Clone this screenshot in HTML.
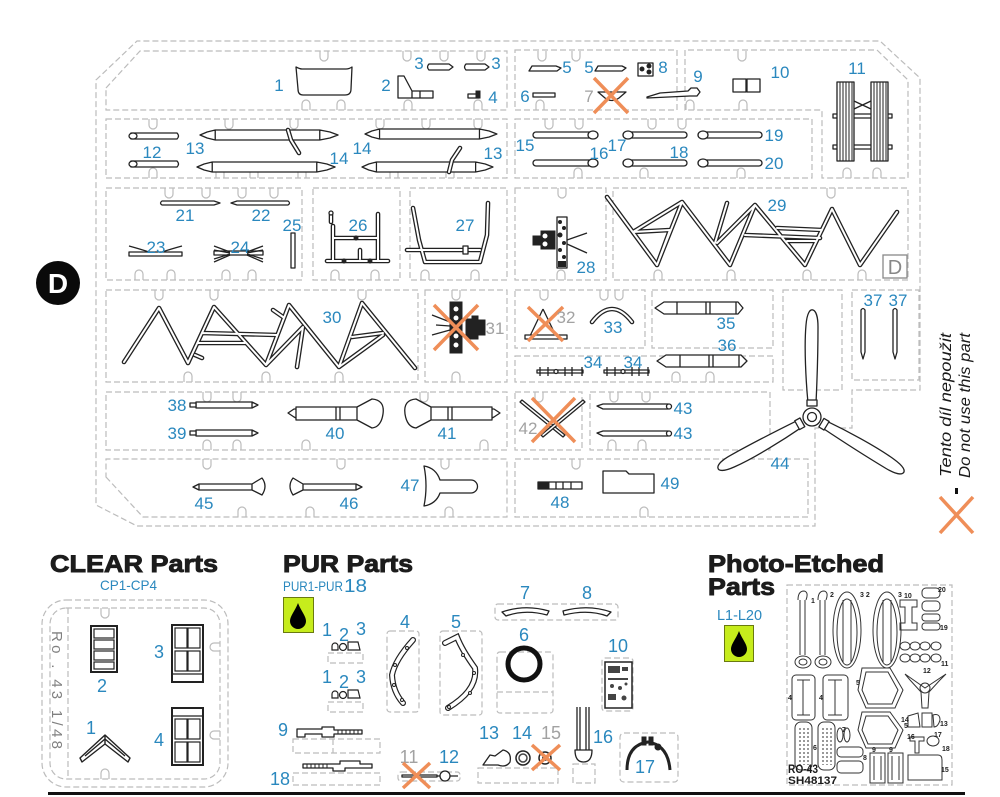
<!DOCTYPE html>
<html><head><meta charset="utf-8"><style>
html,body{margin:0;padding:0;background:#fff;}
svg{display:block;}
.d{fill:none;stroke:#bcbcbc;stroke-width:1.2;stroke-dasharray:6 3;}
.p{fill:#fff;stroke:#222;stroke-width:1.3;stroke-linejoin:round;}
.n{fill:none;stroke:#222;stroke-width:1.3;}
.k{fill:#222;stroke:#222;stroke-width:1;}
.l{font-family:"Liberation Sans",sans-serif;font-size:17px;fill:#2a88be;text-anchor:middle;}
.g{fill:#a2a2a2;}
.x{stroke:#ef8e58;stroke-width:3.5;fill:none;}
.tb{fill:none;stroke:#222;stroke-width:4.6;stroke-linecap:round;stroke-linejoin:round;}
.tw{fill:none;stroke:#fff;stroke-width:2;stroke-linecap:round;stroke-linejoin:round;}
.h{font-family:"Liberation Sans",sans-serif;font-weight:bold;font-size:24px;fill:#1c1c1c;stroke:#1c1c1c;stroke-width:0.9;}
.s{font-family:"Liberation Sans",sans-serif;fill:#2a88be;}
.pe{fill:none;stroke:#333;stroke-width:1;}
</style></head><body>
<svg width="1000" height="797" viewBox="0 0 1000 797" xmlns="http://www.w3.org/2000/svg">
<defs>
<path id="t30" d="M124,362 L159,308 L188,363 L214,307 L266,365 L289,305 L339,367 L362,303 L415,368 M202,333 L277,335 M198,343 L245,343 M273,310 L283,317 M195,355 L202,358 M266,365 L303,327 L297,367 M352,337 L383,333 M339,367 L383,335"/>
<path id="t29" d="M607,197 L657,265 L682,202 L730,265 L755,205 L805,265 L832,209 L860,265 L897,212 M633,232 L682,202 M633,232 L670,230 L657,265 M715,243 L727,203 M717,243 L755,205 M745,235 L820,238 M777,228 L822,230 M787,241 L815,241"/>
<path id="t26" d="M333,226 L333,260 M378,214 L378,260 M333,238 L378,238 M327,261 L388,261 M360,250 L360,259 M331,222 L331,214"/>
<path id="t27" d="M413,208 L419,240 L425,262 L480,262 L487,235 L488,203 M407,250 L480,250"/>
<path id="t33" d="M592,322 Q612,296 632,322"/>
<path id="blade" d="M14,-4 C35,-6 70,-8 92,-6 C104,-5 108,-2 107,1 C106,4 100,6 90,6 C68,6 35,5 14,4 Z"/>
<path id="tube" d="M0,0 L7,-3 L15,-5 H118 L128,-3 L136,0 L128,3 L118,5 H15 L7,3 Z M15,-5 V5 M118,-5 V5"/>
</defs>

<!-- Sprue outlines -->
<path class="d" d="M96,80 L137,41 H880 L920,78 V390 H852 V428 H815 V526 H137 L96,505 Z"/>
<path class="d" d="M106,88 L140,51 H507 V110 H106 Z"/>
<rect class="d" x="515" y="50" width="162" height="60"/>
<path class="d" d="M685,110 V50 H877 L908,80 V178 H822 V110 Z"/>
<rect class="d" x="106" y="119" width="401" height="59"/>
<rect class="d" x="515" y="119" width="297" height="59"/>
<rect class="d" x="106" y="188" width="196" height="92"/>
<rect class="d" x="313" y="188" width="87" height="92"/>
<rect class="d" x="410" y="188" width="97" height="92"/>
<rect class="d" x="515" y="188" width="91" height="92"/>
<rect class="d" x="613" y="188" width="295" height="92"/>
<rect class="d" x="106" y="290" width="312" height="92"/>
<rect class="d" x="425" y="290" width="82" height="92"/>
<rect class="d" x="515" y="290" width="130" height="58"/>
<rect class="d" x="515" y="356" width="258" height="26"/>
<rect class="d" x="652" y="290" width="121" height="58"/>
<rect class="d" x="783" y="290" width="59" height="100"/>
<rect class="d" x="852" y="290" width="67" height="90"/>
<rect class="d" x="106" y="392" width="401" height="58"/>
<rect class="d" x="515" y="392" width="67" height="58"/>
<rect class="d" x="590" y="392" width="180" height="58"/>
<path class="d" d="M106,477 L143,517 H507 V459 H106 Z"/>
<rect class="d" x="515" y="459" width="293" height="58"/>
<!-- notches -->
<g class="d" style="stroke-dasharray:none">
<path d="M320,51 v6 a4,4 0 0 0 8,0 v-6 M403,51 v6 a4,4 0 0 0 8,0 v-6 M440,51 v6 a4,4 0 0 0 8,0 v-6 M477,51 v6 a4,4 0 0 0 8,0 v-6 M538,51 v6 a4,4 0 0 0 8,0 v-6 M572,51 v6 a4,4 0 0 0 8,0 v-6 M738,51 v6 a4,4 0 0 0 8,0 v-6"/>
<path d="M302,110 v-6 a4,4 0 0 1 8,0 v6 M337,110 v-6 a4,4 0 0 1 8,0 v6 M404,110 v-6 a4,4 0 0 1 8,0 v6 M474,110 v-6 a4,4 0 0 1 8,0 v6 M536,110 v-6 a4,4 0 0 1 8,0 v6 M686,110 v-6 a4,4 0 0 1 8,0 v6 M739,110 v-6 a4,4 0 0 1 8,0 v6"/>
<path d="M149,119 v6 a4,4 0 0 0 8,0 v-6 M225,119 v6 a4,4 0 0 0 8,0 v-6 M290,119 v6 a4,4 0 0 0 8,0 v-6 M376,119 v6 a4,4 0 0 0 8,0 v-6 M422,119 v6 a4,4 0 0 0 8,0 v-6 M474,119 v6 a4,4 0 0 0 8,0 v-6 M545,119 v6 a4,4 0 0 0 8,0 v-6 M575,119 v6 a4,4 0 0 0 8,0 v-6 M648,119 v6 a4,4 0 0 0 8,0 v-6 M678,119 v6 a4,4 0 0 0 8,0 v-6"/>
<path d="M149,178 v-6 a4,4 0 0 1 8,0 v6 M216,178 v-6 a4,4 0 0 1 8,0 v6 M250,178 v-6 a4,4 0 0 1 8,0 v6 M298,178 v-6 a4,4 0 0 1 8,0 v6 M390,178 v-6 a4,4 0 0 1 8,0 v6 M446,178 v-6 a4,4 0 0 1 8,0 v6 M574,178 v-6 a4,4 0 0 1 8,0 v6 M640,178 v-6 a4,4 0 0 1 8,0 v6 M737,178 v-6 a4,4 0 0 1 8,0 v6 M843,178 v-6 a4,4 0 0 1 8,0 v6 M873,178 v-6 a4,4 0 0 1 8,0 v6"/>
<path d="M165,188 v6 a4,4 0 0 0 8,0 v-6 M202,188 v6 a4,4 0 0 0 8,0 v-6 M238,188 v6 a4,4 0 0 0 8,0 v-6 M270,188 v6 a4,4 0 0 0 8,0 v-6 M558,188 v6 a4,4 0 0 0 8,0 v-6 M827,188 v6 a4,4 0 0 0 8,0 v-6"/>
<path d="M135,280 v-6 a4,4 0 0 1 8,0 v6 M167,280 v-6 a4,4 0 0 1 8,0 v6 M222,280 v-6 a4,4 0 0 1 8,0 v6 M248,280 v-6 a4,4 0 0 1 8,0 v6 M331,280 v-6 a4,4 0 0 1 8,0 v6 M371,280 v-6 a4,4 0 0 1 8,0 v6 M421,280 v-6 a4,4 0 0 1 8,0 v6 M471,280 v-6 a4,4 0 0 1 8,0 v6 M557,280 v-6 a4,4 0 0 1 8,0 v6 M654,280 v-6 a4,4 0 0 1 8,0 v6 M727,280 v-6 a4,4 0 0 1 8,0 v6 M803,280 v-6 a4,4 0 0 1 8,0 v6 M858,280 v-6 a4,4 0 0 1 8,0 v6"/>
<path d="M155,290 v6 a4,4 0 0 0 8,0 v-6 M210,290 v6 a4,4 0 0 0 8,0 v-6 M358,290 v6 a4,4 0 0 0 8,0 v-6 M452,290 v6 a4,4 0 0 0 8,0 v-6 M540,290 v6 a4,4 0 0 0 8,0 v-6 M600,290 v6 a4,4 0 0 0 8,0 v-6 M615,290 v6 a4,4 0 0 0 8,0 v-6"/>
<path d="M184,382 v-6 a4,4 0 0 1 8,0 v6 M262,382 v-6 a4,4 0 0 1 8,0 v6 M335,382 v-6 a4,4 0 0 1 8,0 v6 M452,382 v-6 a4,4 0 0 1 8,0 v6 M672,382 v-6 a4,4 0 0 1 8,0 v6 M706,382 v-6 a4,4 0 0 1 8,0 v6"/>
<path d="M203,392 v6 a4,4 0 0 0 8,0 v-6 M233,392 v6 a4,4 0 0 0 8,0 v-6 M420,392 v6 a4,4 0 0 0 8,0 v-6 M535,392 v6 a4,4 0 0 0 8,0 v-6 M610,392 v6 a4,4 0 0 0 8,0 v-6 M642,392 v6 a4,4 0 0 0 8,0 v-6"/>
<path d="M203,450 v-6 a4,4 0 0 1 8,0 v6 M233,450 v-6 a4,4 0 0 1 8,0 v6 M302,450 v-6 a4,4 0 0 1 8,0 v6 M480,450 v-6 a4,4 0 0 1 8,0 v6 M608,450 v-6 a4,4 0 0 1 8,0 v6 M638,450 v-6 a4,4 0 0 1 8,0 v6"/>
<path d="M203,459 v6 a4,4 0 0 0 8,0 v-6 M337,459 v6 a4,4 0 0 0 8,0 v-6 M441,459 v6 a4,4 0 0 0 8,0 v-6 M572,459 v6 a4,4 0 0 0 8,0 v-6"/>
<path d="M238,517 v-6 a4,4 0 0 1 8,0 v6 M306,517 v-6 a4,4 0 0 1 8,0 v6 M445,517 v-6 a4,4 0 0 1 8,0 v6 M640,517 v-6 a4,4 0 0 1 8,0 v6"/>
</g>

<!-- D circle -->
<circle cx="58" cy="283" r="22" fill="#0a0a0a"/>
<text x="58" y="293" text-anchor="middle" font-family="Liberation Sans, sans-serif" font-weight="bold" font-size="28" fill="#fff">D</text>

<!-- Row A parts -->
<path class="p" d="M296,67 Q300,69 302,69 H346 Q349,69 352,67 L351,89 Q351,95 345,95 H303 Q298,95 298,89 Z"/>
<path class="p" d="M398,76 H404 L412,91 H433 V98 H398 Z M412,91 V98 M420,91 V98"/>
<path class="p" d="M429,64 H449 L453,67 L449,70 H429 Q426,67 429,64 Z"/>
<path class="p" d="M466,64 H485 L489,67 L485,70 H466 Q463,67 466,64 Z"/>
<rect class="p" x="468" y="94" width="11" height="4"/><rect class="k" x="476" y="91" width="4" height="7"/>
<path class="p" d="M532,66 H556 L561,68 L557,71 H529 Z"/>
<path class="p" d="M598,66 H622 L626,68 L622,71 H595 Z"/>
<rect class="p" x="638" y="63" width="15" height="13"/>
<circle class="k" cx="642" cy="69" r="2"/><circle class="k" cx="649" cy="66" r="2"/><circle class="k" cx="649" cy="72" r="2"/>
<rect class="p" x="533" y="93" width="22" height="4"/>
<path class="p" d="M598,92 H626 L619,98 Q612,103 605,98 Z"/>
<path class="x" d="M594,78 L628,113 M628,78 L594,113"/>
<path class="p" d="M647,97 L660,93 L688,91 L691,88 H697 L700,92 L697,96 L690,96 L647,98 Z"/>
<rect class="p" x="733" y="79" width="13" height="13"/><rect class="p" x="747" y="79" width="13" height="13"/>
<line x1="746.5" y1="79" x2="746.5" y2="92" stroke="#222" stroke-width="2"/>
<!-- part 11 -->
<rect class="p" x="833" y="114" width="59" height="4"/><rect class="p" x="833" y="145" width="59" height="4"/>
<path class="n" d="M854,101 L871,109 M854,109 L871,101"/>
<rect class="p" x="837" y="82" width="17" height="79"/><rect class="p" x="871" y="82" width="17" height="79"/>
<path class="n" style="stroke-width:1" d="M840,82 V161 M843,82 V161 M846,82 V161 M849,82 V161 M852,82 V161 M874,82 V161 M877,82 V161 M880,82 V161 M883,82 V161 M886,82 V161"/>

<!-- Row B -->
<path class="p" d="M131,133 H177 Q180,136 177,139 H131 Q128,136 131,133 Z"/><ellipse class="p" cx="133" cy="136" rx="4" ry="3"/>
<path class="p" d="M131,161 H177 Q180,164 177,167 H131 Q128,164 131,161 Z"/><ellipse class="p" cx="133" cy="164" rx="4" ry="3"/>
<use href="#tube" class="p" transform="translate(200,135) scale(1.015,1)"/>
<use href="#tube" class="p" transform="translate(197,167) scale(1.015,1)"/>
<use href="#tube" class="p" transform="translate(365,134) scale(0.97,1)"/>
<use href="#tube" class="p" transform="translate(362,167) scale(0.963,1)"/>
<path class="tb" d="M288,130 L291,140 L299,153"/><path class="tw" d="M288,130 L291,140 L299,153"/>
<path class="tb" d="M449,172 L452,160 L460,148"/><path class="tw" d="M449,172 L452,160 L460,148"/>
<rect class="p" x="533" y="132" width="62" height="6" rx="3"/><ellipse class="p" cx="593" cy="135" rx="5" ry="4"/>
<rect class="p" x="533" y="160" width="62" height="6" rx="3"/><ellipse class="p" cx="593" cy="163" rx="5" ry="4"/>
<rect class="p" x="625" y="132" width="62" height="6" rx="3"/><ellipse class="p" cx="628" cy="135" rx="5" ry="4"/>
<rect class="p" x="625" y="160" width="62" height="6" rx="3"/><ellipse class="p" cx="628" cy="163" rx="5" ry="4"/>
<rect class="p" x="700" y="132" width="62" height="6" rx="3"/><ellipse class="p" cx="703" cy="135" rx="5" ry="4"/>
<rect class="p" x="700" y="160" width="62" height="6" rx="3"/><ellipse class="p" cx="703" cy="163" rx="5" ry="4"/>

<!-- Row C -->
<path class="p" d="M162,201 H214 L220,203 L214,205 H162 Q159,203 162,201 Z"/>
<path class="p" d="M231,203 L237,201 H288 Q291,203 288,205 H237 Z"/>
<rect class="p" x="129" y="252" width="53" height="4"/>
<path class="n" d="M129,246 Q140,249 149,252 M182,246 Q171,249 162,252"/>
<rect class="p" x="214" y="251" width="49" height="4"/>
<path class="n" d="M214,246 L230,252 M214,250 L230,253 M214,259 L230,254 M214,262 L230,255 M263,246 L247,252 M263,250 L247,253 M263,259 L247,254 M263,262 L247,255"/>
<rect class="p" x="291" y="233" width="4" height="35"/>
<use href="#t26" class="tb"/><use href="#t26" class="tw"/>
<circle class="p" cx="331" cy="213" r="2"/><circle class="k" cx="356" cy="238" r="2"/><circle class="k" cx="344" cy="261" r="2"/><circle class="k" cx="370" cy="261" r="2"/>
<use href="#t27" class="tb"/><use href="#t27" class="tw"/>
<rect class="p" x="463" y="246" width="5" height="8"/>
<!-- 28 -->
<path class="k" d="M533,236 H541 V231 H555 V249 H541 V245 H533 Z"/>
<circle cx="545" cy="236" r="2.5" fill="#fff"/><circle cx="545" cy="244" r="2.5" fill="#fff"/>
<rect class="p" x="557" y="217" width="10" height="51"/>
<g fill="#222"><circle cx="560" cy="222" r="2"/><circle cx="564" cy="228" r="2"/><circle cx="560" cy="235" r="2.5"/><circle cx="564" cy="243" r="2"/><circle cx="560" cy="250" r="2"/><circle cx="564" cy="257" r="2"/><rect x="558" y="261" width="8" height="6"/></g>
<path class="n" d="M567,240 L587,233 M567,244 L587,253"/>
<!-- 29 -->
<use href="#t29" class="tb"/><use href="#t29" class="tw"/>
<rect x="883" y="255" width="24" height="23" fill="none" stroke="#888" stroke-width="1.3"/>
<text x="895" y="274" text-anchor="middle" font-family="Liberation Sans, sans-serif" font-size="20" fill="#888">D</text>

<!-- Row D -->
<use href="#t30" class="tb"/><use href="#t30" class="tw"/>
<path class="n" d="M432,315 L450,322 M432,335 L450,330 M436,325 L450,326"/>
<rect class="k" x="450" y="302" width="12" height="51"/>
<g fill="#fff"><circle cx="456" cy="309" r="2.5"/><circle cx="456" cy="318" r="2.5"/><circle cx="456" cy="336" r="2.5"/><circle cx="456" cy="345" r="2.5"/></g>
<path class="k" d="M466,319 H472 V316 H478 V320 H485 V335 H478 V339 H466 Z"/>
<path class="x" d="M434,305 L478,350 M478,305 L434,350"/>
<path class="n" d="M543,309 L530,336 M543,309 L556,336"/><rect class="p" x="525" y="335" width="42" height="4"/>
<path class="x" d="M528,307 L563,341 M563,307 L528,341"/>
<use href="#t33" class="tb"/><use href="#t33" class="tw"/>
<path class="p" d="M655,308 L664,302 H738 L743,308 L738,314 H664 Z M677,302 V314 M706,302 V314 M710,302 V314 M736,302 V314"/>
<path class="p" d="M657,361 L666,355 H741 L747,361 L741,367 H666 Z M680,355 V367 M709,355 V367 M713,355 V367 M739,355 V367"/>
<rect class="p" x="537" y="370" width="46" height="3"/>
<path class="n" d="M540,367 V376 M548,367 V376 M565,367 V376 M572,367 V376 M582,367 V376"/><circle class="p" cx="556" cy="371.5" r="2"/>
<rect class="p" x="604" y="370" width="45" height="3"/>
<path class="n" d="M607,367 V376 M615,367 V376 M632,367 V376 M639,367 V376 M648,367 V376"/><circle class="p" cx="623" cy="371.5" r="2"/>
<!-- 37 -->
<path class="p" d="M861,310 Q863,307 865,310 V352 L863,359 L861,352 Z"/>
<path class="p" d="M893,310 Q895,307 897,310 V352 L895,359 L893,352 Z"/>
<!-- propeller -->
<g transform="translate(812,417)">
<g transform="rotate(-90)"><use href="#blade" class="p"/><rect class="p" x="11" y="-5" width="6" height="10"/></g>
<g transform="rotate(151)"><use href="#blade" class="p"/><rect class="p" x="11" y="-5" width="6" height="10"/></g>
<g transform="rotate(31)"><use href="#blade" class="p"/><rect class="p" x="11" y="-5" width="6" height="10"/></g>
<circle class="p" r="9"/><circle class="p" r="4.5"/>
</g>

<!-- Row E -->
<path class="p" d="M196,402 H252 L258,405 L252,408 H196 Z M252,402 V408"/><rect class="p" x="190" y="403" width="6" height="4"/>
<path class="p" d="M196,430 H252 L258,433 L252,436 H196 Z M252,430 V436"/><rect class="p" x="190" y="431" width="6" height="4"/>
<path id="p40" class="p" d="M288,413 L294,409 H296 V407 H357 L372,399 Q385,400 383,414 Q381,427 372,428 L357,420 H296 V418 L294,417 Z M296,407 V420 M336,407 V420 M340,407 V420 M357,407 V420"/>
<use href="#p40" transform="matrix(-1,0,0,1,788,0)"/>
<path class="p" d="M522,400 L565,435 L563,437 L520,402 Z"/>
<path class="p" d="M585,402 L543,437 L541,435 L583,400 Z"/>
<path class="x" d="M532,398 L575,442 M575,398 L532,442"/>
<path class="p" d="M597,406 L603,404 H668 Q672,406 668,409 H603 Z"/><circle class="p" cx="669" cy="406.5" r="2.5"/>
<path class="p" d="M597,433 L603,431 H668 Q672,433 668,436 H603 Z"/><circle class="p" cx="669" cy="433.5" r="2.5"/>

<!-- Row F -->
<path id="p45" class="p" d="M193,487 L199,484 H252 L262,478 Q268,486 262,495 L252,490 H199 Z M199,484 V490 M252,484 V490"/>
<use href="#p45" transform="matrix(-1,0,0,1,555,0)"/>
<path class="p" d="M424,466 Q436,468 440,480 H471 A6.5,6.5 0 0 1 471,493 H440 Q436,504 424,506 Q428,486 424,466 Z"/>
<rect class="p" x="538" y="482" width="44" height="7"/>
<path class="k" d="M539,483 H549 V488 H539 Z"/><path class="n" d="M556,482 V489 M563,482 V489 M571,482 V489"/>
<path class="p" d="M603,471 H626 L629,474 H654 V493 H603 Z"/>

<!-- labels sprue -->
<g class="l">
<text x="279" y="91">1</text><text x="386" y="91">2</text><text x="419" y="69">3</text><text x="496" y="69">3</text><text x="493" y="103">4</text>
<text x="567" y="73">5</text><text x="589" y="73">5</text><text x="663" y="73">8</text><text x="525" y="102">6</text><text x="589" y="102" class="g">7</text>
<text x="698" y="82">9</text><text x="780" y="78">10</text><text x="857" y="74">11</text>
<text x="152" y="158">12</text><text x="195" y="154">13</text><text x="339" y="164">14</text><text x="362" y="154">14</text><text x="493" y="159">13</text>
<text x="525" y="151">15</text><text x="599" y="159">16</text><text x="617" y="151">17</text><text x="679" y="158">18</text><text x="774" y="141">19</text><text x="774" y="169">20</text>
<text x="185" y="221">21</text><text x="261" y="221">22</text><text x="156" y="253">23</text><text x="240" y="253">24</text><text x="292" y="231">25</text><text x="358" y="231">26</text><text x="465" y="231">27</text><text x="586" y="273">28</text><text x="777" y="211">29</text>
<text x="332" y="323">30</text><text x="495" y="334" class="g">31</text><text x="566" y="323" class="g">32</text><text x="613" y="333">33</text><text x="726" y="329">35</text><text x="727" y="351">36</text><text x="593" y="368">34</text><text x="633" y="368">34</text><text x="873" y="306">37</text><text x="898" y="306">37</text>
<text x="177" y="411">38</text><text x="177" y="439">39</text><text x="335" y="439">40</text><text x="447" y="439">41</text><text x="528" y="434" class="g">42</text><text x="683" y="414">43</text><text x="683" y="439">43</text><text x="780" y="469">44</text>
<text x="204" y="509">45</text><text x="349" y="509">46</text><text x="410" y="491">47</text><text x="560" y="508">48</text><text x="670" y="489">49</text>
</g>

<!-- Do not use note -->
<g font-family="Liberation Sans, sans-serif" font-style="italic" font-size="16" fill="#1a1a1a">
<text transform="translate(951,477) rotate(-90)" textLength="144" lengthAdjust="spacingAndGlyphs">Tento díl nepoužit</text>
<text transform="translate(970,478) rotate(-90)" textLength="145" lengthAdjust="spacingAndGlyphs">Do not use this part</text>
</g>
<rect x="955" y="488" width="3" height="6" fill="#111"/>
<path class="x" d="M940,497 L973,533 M973,497 L940,533"/>

<!-- CLEAR Parts -->
<text class="h" x="50" y="572" textLength="168" lengthAdjust="spacingAndGlyphs">CLEAR Parts</text>
<text class="s" x="100" y="590" font-size="14" textLength="57" lengthAdjust="spacingAndGlyphs">CP1-CP4</text>
<rect class="d" x="42" y="600" width="186" height="187" rx="24"/>
<rect class="d" x="50" y="608" width="170" height="171" rx="16"/>
<line class="d" x1="68" y1="608" x2="68" y2="779"/>
<g class="d" style="stroke-dasharray:none"><path d="M101,608 v6 a4,4 0 0 0 8,0 v-6 M101,779 v-6 a4,4 0 0 1 8,0 v6 M220,643 h-6 a4,4 0 0 0 0,8 h6 M220,731 h-6 a4,4 0 0 0 0,8 h6"/></g>
<text transform="translate(52,690) rotate(90)" text-anchor="middle" font-family="Liberation Sans, sans-serif" font-size="15" fill="#808080" textLength="118" lengthAdjust="spacing">Ro . 43  1/48</text>
<rect x="91" y="626" width="26" height="46" fill="#fff" stroke="#222" stroke-width="2"/>
<g fill="none" stroke="#222" stroke-width="1.2"><rect x="94" y="629" width="20" height="9"/><rect x="94" y="640" width="20" height="9"/><rect x="94" y="651" width="20" height="9"/><rect x="94" y="662" width="20" height="7"/></g>
<rect x="172" y="625" width="31" height="57" fill="#fff" stroke="#222" stroke-width="2"/>
<g fill="none" stroke="#222" stroke-width="1.2"><rect x="175" y="628" width="12" height="20"/><rect x="188" y="628" width="12" height="20"/><rect x="175" y="651" width="12" height="20"/><rect x="188" y="651" width="12" height="20"/><line x1="172" y1="674" x2="203" y2="674"/></g>
<rect x="172" y="708" width="31" height="57" fill="#fff" stroke="#222" stroke-width="2"/>
<g fill="none" stroke="#222" stroke-width="1.2"><line x1="172" y1="716" x2="203" y2="716"/><rect x="175" y="719" width="12" height="20"/><rect x="188" y="719" width="12" height="20"/><rect x="175" y="742" width="12" height="20"/><rect x="188" y="742" width="12" height="20"/></g>
<path d="M80,758 L105,735 L130,758 L128,762 L105,744 L82,762 Z M105,735 L105,744 M85,756 L105,739 L125,756" fill="#fff" stroke="#222" stroke-width="1.4" stroke-linejoin="round"/>
<g class="l" style="font-size:18px"><text x="102" y="692">2</text><text x="159" y="658">3</text><text x="159" y="746">4</text><text x="91" y="734">1</text></g>

<!-- PUR Parts -->
<text class="h" x="283" y="572" textLength="130" lengthAdjust="spacingAndGlyphs">PUR Parts</text>
<text class="s" x="283" y="591" font-size="14" textLength="60" lengthAdjust="spacingAndGlyphs">PUR1-PUR</text>
<text class="s" x="344" y="592" font-size="18" textLength="23" lengthAdjust="spacingAndGlyphs">18</text>
<rect x="283.5" y="597.5" width="30" height="35" fill="#c6ec1c" stroke="#6a7a10" stroke-width="1"/>
<path d="M298,603 C301,611 306,616 306,621 A8,8 0 0 1 290,621 C290,616 295,611 298,603 Z" fill="#000"/>
<g class="l" style="font-size:18px">
<text x="327" y="636">1</text><text x="344" y="641">2</text><text x="361" y="635">3</text>
<text x="327" y="683">1</text><text x="344" y="688">2</text><text x="361" y="683">3</text>
<text x="405" y="628">4</text><text x="456" y="628">5</text><text x="525" y="599">7</text><text x="587" y="599">8</text><text x="524" y="641">6</text><text x="618" y="652">10</text>
<text x="283" y="736">9</text><text x="280" y="785">18</text><text x="409" y="763" class="g">11</text><text x="449" y="763">12</text>
<text x="489" y="739">13</text><text x="522" y="739">14</text><text x="551" y="739" class="g">15</text><text x="603" y="743">16</text><text x="645" y="773">17</text>
</g>
<g class="d"><rect x="328" y="653" width="35" height="10"/><rect x="328" y="702" width="35" height="10"/><rect x="387" y="631" width="32" height="81" rx="3"/><rect x="440" y="631" width="42" height="84" rx="3"/><rect x="495" y="604" width="123" height="16" rx="3"/><rect x="497" y="652" width="56" height="61" rx="3"/><line x1="497" y1="692" x2="553" y2="692"/><rect x="602" y="658" width="31" height="53" rx="3"/><rect x="293" y="739" width="87" height="14"/><line x1="333" y1="739" x2="333" y2="753"/><rect x="293" y="773" width="87" height="12"/><rect x="398" y="772" width="62" height="9" rx="3"/><rect x="478" y="768" width="80" height="15"/><rect x="573" y="764" width="22" height="19"/><rect x="620" y="733" width="58" height="49" rx="4"/></g>
<g fill="#fff" stroke="#222" stroke-width="1.2">
<path d="M332,650 V646 A3,3 0 0 1 338,646 V650 Z"/><circle cx="343" cy="647" r="3.5"/><path d="M348,642 H358 L360,650 H348 Z"/>
<path d="M332,698 V694 A3,3 0 0 1 338,694 V698 Z"/><circle cx="343" cy="695" r="3.5"/><path d="M348,690 H358 L360,698 H348 Z"/>
</g>
<path d="M413,640 Q395,660 392,675 Q393,692 403,703" fill="none" stroke="#222" stroke-width="6" stroke-linecap="round"/>
<path d="M413,640 Q395,660 392,675 Q393,692 403,703" fill="none" stroke="#fff" stroke-width="3.6" stroke-linecap="round"/>
<g fill="#fff" stroke="#222" stroke-width="1"><circle cx="407" cy="648" r="1.5"/><circle cx="395" cy="665" r="1.5"/><circle cx="394" cy="685" r="1.5"/><circle cx="402" cy="700" r="1.5"/></g>
<path d="M445,643 L457,637 Q462,650 475,668 Q478,690 448,708" fill="none" stroke="#222" stroke-width="6" stroke-linecap="round"/>
<path d="M445,643 L457,637 Q462,650 475,668 Q478,690 448,708" fill="none" stroke="#fff" stroke-width="3.6" stroke-linecap="round"/>
<g fill="#fff" stroke="#222" stroke-width="1"><circle cx="463" cy="655" r="1.5"/><circle cx="474" cy="673" r="1.5"/><circle cx="470" cy="693" r="1.5"/><circle cx="449" cy="707" r="1.5"/></g>
<path class="p" d="M502,612 Q525,604 549,611 L547,615 Q525,609 506,616 Z"/>
<path class="p" d="M563,611 Q588,604 611,612 L607,616 Q588,609 564,615 Z"/>
<circle cx="524" cy="664" r="16" fill="none" stroke="#111" stroke-width="5"/>
<rect x="605" y="662" width="27" height="46" fill="#fff" stroke="#222" stroke-width="1.5"/>
<g fill="#444"><rect x="608" y="666" width="12" height="7"/><rect x="622" y="667" width="6" height="4"/><rect x="608" y="678" width="20" height="2"/><circle cx="612" cy="686" r="2"/><circle cx="620" cy="688" r="2"/><circle cx="626" cy="684" r="1.5"/><rect x="608" y="694" width="8" height="6"/><circle cx="624" cy="698" r="2.5"/></g>
<path class="p" d="M297,729 H322 V727 H334 V730 H362 V734 H334 V737 H322 V734 H305 V737 H297 Z"/>
<path class="n" style="stroke-width:1" d="M338,730 V734 M342,730 V734 M346,730 V734 M350,730 V734 M354,730 V734 M358,730 V734"/>
<path class="p" d="M303,764 H340 V761 H360 V764 H372 V768 H345 V771 H333 V768 H303 Z"/>
<path class="n" style="stroke-width:1" d="M307,764 V768 M311,764 V768 M315,764 V768 M319,764 V768 M323,764 V768 M327,764 V768"/>
<path class="p" d="M402,775 H437 V777 H402 Z"/><circle class="p" cx="445" cy="776" r="5"/><path class="n" d="M450,776 H458 M437,776 H440"/>
<path class="x" d="M403,763 L430,788 M430,763 L403,788"/>
<path class="p" d="M483,765 L490,755 L495,756 L503,750 Q512,752 510,762 Q506,768 498,765 L490,765 Z"/>
<circle cx="523" cy="758" r="7" fill="#fff" stroke="#222" stroke-width="1.5"/><circle cx="523" cy="758" r="4" fill="none" stroke="#444" stroke-width="1.5"/>
<circle cx="545" cy="758" r="6" fill="#fff" stroke="#222" stroke-width="1.5"/><circle cx="545" cy="758" r="3" fill="#444"/>
<path class="x" d="M532,745 L560,770 M560,745 L532,770"/>
<path class="n" d="M577,707 V752 M580,707 V752 M586,707 V752 M589,707 V752"/>
<path class="p" d="M575,750 H592 Q592,762 583.5,762 Q575,762 575,750 Z"/>
<path d="M627,770 Q627,745 648,742 Q668,745 670,770" fill="none" stroke="#222" stroke-width="3"/>
<rect class="k" x="642" y="737" width="4" height="8"/><rect class="k" x="649" y="737" width="4" height="8"/><circle class="k" cx="658" cy="747" r="3"/>

<!-- Photo-Etched -->
<text class="h" x="708" y="572" textLength="176" lengthAdjust="spacingAndGlyphs">Photo-Etched</text>
<text class="h" x="708" y="595" textLength="67" lengthAdjust="spacingAndGlyphs">Parts</text>
<text class="s" x="717" y="620" font-size="15" textLength="45" lengthAdjust="spacingAndGlyphs">L1-L20</text>
<rect x="724.5" y="625.5" width="29" height="36" fill="#c6ec1c" stroke="#6a7a10" stroke-width="1"/>
<path d="M739,631 C742,639 747,644 747,649 A8,8 0 0 1 731,649 C731,644 736,639 739,631 Z" fill="#000"/>
<rect class="d" x="787" y="585" width="165" height="200"/>
<g class="pe">
<path d="M798,600 Q798,591 804,591 Q809,592 806,600 M800,600 V655 M805,600 V655"/><ellipse cx="803" cy="662" rx="8" ry="6"/><ellipse cx="803" cy="662" rx="4" ry="3"/>
<path d="M818,600 Q818,591 824,591 Q829,592 826,600 M820,600 V655 M825,600 V655"/><ellipse cx="823" cy="662" rx="8" ry="6"/><ellipse cx="823" cy="662" rx="4" ry="3"/>
<ellipse cx="847" cy="630" rx="14" ry="38"/><ellipse cx="847" cy="632" rx="10" ry="33"/><path d="M843,600 V662 M851,600 V662"/>
<ellipse cx="887" cy="630" rx="14" ry="38"/><ellipse cx="887" cy="632" rx="10" ry="33"/><path d="M883,600 V662 M891,600 V662"/>
<path d="M900,600 H917 V607 H912 V623 H917 V630 H900 V623 H905 V607 H900 Z"/>
<rect x="922" y="588" width="18" height="10" rx="4"/><rect x="922" y="601" width="18" height="10" rx="4"/><rect x="922" y="614" width="18" height="7" rx="3"/><rect x="922" y="623" width="18" height="7" rx="3"/>
<ellipse cx="905" cy="646" rx="5" ry="4"/><ellipse cx="915" cy="646" rx="5" ry="4"/><ellipse cx="925" cy="646" rx="5" ry="4"/><ellipse cx="936" cy="646" rx="5" ry="4"/>
<ellipse cx="905" cy="658" rx="5" ry="4"/><ellipse cx="915" cy="658" rx="5" ry="4"/><ellipse cx="925" cy="658" rx="5" ry="4"/><ellipse cx="936" cy="658" rx="5" ry="4"/>
<path d="M905,674 L925,688 L946,674 L940,680 L929,692 L928,708 L922,708 L921,692 L910,680 Z"/><circle cx="925" cy="688" r="5"/>
<path d="M862,668 L890,668 L903,690 L895,708 L866,708 L858,690 Z"/><path d="M866,672 L888,672 L898,690 L892,704 L868,704 L862,690 Z"/>
<path d="M862,712 L890,712 L903,730 L895,748 L866,748 L858,730 Z"/><path d="M866,716 L888,716 L898,730 L892,744 L868,744 L862,730 Z"/>
<rect x="792" y="675" width="23" height="45" rx="4"/><path d="M797,680 H810 M803,680 V715 M797,715 H810"/>
<rect x="823" y="675" width="25" height="45" rx="4"/><path d="M828,680 H842 M835,680 V715 M828,715 H842"/>
<rect x="795" y="722" width="17" height="48" rx="6"/><path d="M800,728 V765 M804,728 V765 M808,728 V765" stroke-dasharray="2 2"/>
<rect x="818" y="722" width="17" height="48" rx="6"/><path d="M823,728 V765 M827,728 V765 M831,728 V765" stroke-dasharray="2 2"/>
<ellipse cx="840" cy="735" rx="3" ry="7"/><ellipse cx="847" cy="735" rx="3" ry="7"/>
<rect x="837" y="747" width="26" height="10" rx="4"/><rect x="837" y="761" width="26" height="12" rx="4"/>
<rect x="870" y="753" width="15" height="30"/><rect x="888" y="753" width="15" height="30"/><path d="M874,756 V780 M881,756 V780 M892,756 V780 M899,756 V780"/>
<path d="M908,716 L918,713 L920,727 L908,727 Z M922,713 H932 V727 H922 Z M933,715 Q940,713 940,720 Q938,727 934,727 Z"/>
<path d="M910,737 H924 V741 H919 V753 H915 V741 H910 Z"/><ellipse cx="933" cy="741" rx="6" ry="5"/>
<path d="M908,755 H938 Q942,755 942,760 V780 H908 Z"/>
</g>
<g font-family="Liberation Sans, sans-serif" font-weight="bold" font-size="7" fill="#222">
<text x="811" y="603">1</text><text x="830" y="597">2</text><text x="860" y="597">3 2</text><text x="898" y="597">3</text><text x="904" y="598">10</text><text x="938" y="592">20</text><text x="940" y="630">19</text><text x="941" y="666">11</text><text x="923" y="673">12</text>
<text x="788" y="700">4</text><text x="819" y="700">4</text><text x="856" y="685">5</text><text x="904" y="728">5</text><text x="813" y="750">6</text><text x="842" y="732">7</text><text x="863" y="760">8</text><text x="872" y="752">9</text><text x="889" y="752">9</text>
<text x="901" y="722">14</text><text x="940" y="726">13</text><text x="907" y="739">16</text><text x="934" y="737">17</text><text x="942" y="751">18</text><text x="941" y="772">15</text>
</g>
<text x="788" y="773" font-family="Liberation Sans, sans-serif" font-weight="bold" font-size="12" fill="#1a1a1a" textLength="30" lengthAdjust="spacingAndGlyphs">RO-43</text>
<text x="788" y="784" font-family="Liberation Sans, sans-serif" font-weight="bold" font-size="11" fill="#1a1a1a" textLength="49" lengthAdjust="spacingAndGlyphs">SH48137</text>

<!-- bottom rule -->
<rect x="48" y="792" width="917" height="3" fill="#111"/>
</svg>
</body></html>
